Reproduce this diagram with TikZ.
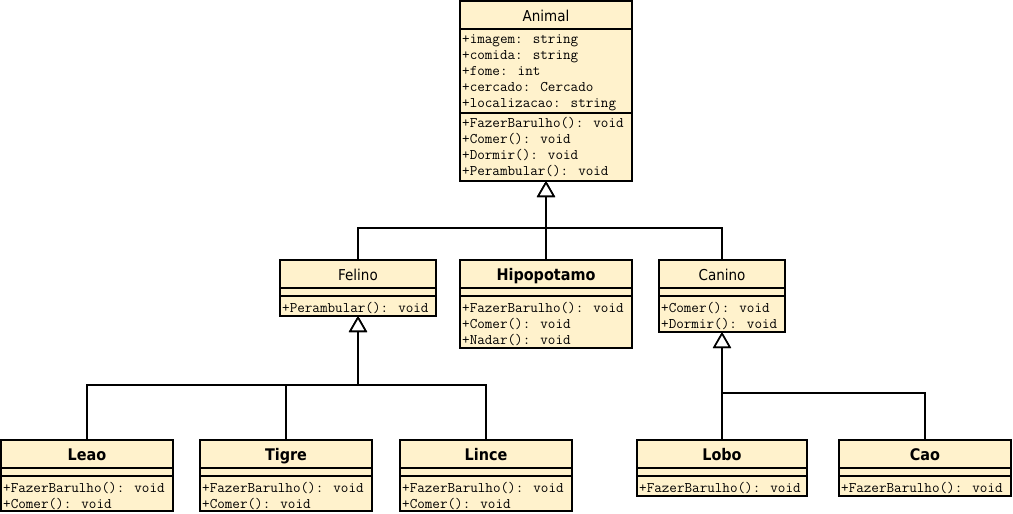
\documentclass[tikz,border=0pt]{standalone}
\usepackage{fontspec}
\newfontfamily\titlefont{DejaVu Sans Condensed}
\usetikzlibrary{arrows.meta}
\definecolor{umlfill}{HTML}{FFF2CC}
\tikzset{
  umlbox/.style={draw, fill=umlfill, line width=1.6pt, inner sep=0pt, outer sep=0pt, anchor=north west},
  sepline/.style={line width=1.6pt},
  ctitle/.style={font=\titlefont\fontsize{15}{18}\selectfont, inner sep=0pt, anchor=base},
  btitle/.style={font=\titlefont\bfseries\fontsize{16}{18}\selectfont, inner sep=0pt, anchor=base},
  mem/.style={font=\ttfamily\fontsize{14.7}{16}\selectfont, anchor=base west, inner sep=0pt},
  inh/.style={line width=1.6pt, -{Triangle[length=16pt,width=18pt,fill=white]}},
}
\newcommand\umlclass[7]{%
  \node[umlbox, minimum width={#4-#2}, minimum height={#7-#3}] (#1) at (#2,-#3) {};
  \draw[sepline] (#2,-#5) -- (#4,-#5);
  \draw[sepline] (#2,-#6) -- (#4,-#6);
}
\begin{document}
\begin{tikzpicture}[x=1pt,y=1pt]
\useasboundingbox (0,0) rectangle (1013,-514);
% classes
\umlclass{animal}{460}{1}{632}{29}{113}{181}
\umlclass{felino}{280}{260}{436}{288}{296}{316}
\umlclass{hipo}{460}{260}{632}{288}{296}{348}
\umlclass{canino}{659}{260}{785}{288}{296}{332}
\umlclass{leao}{1}{440}{173}{468}{476}{511}
\umlclass{tigre}{200}{440}{372}{468}{476}{511}
\umlclass{lince}{400}{440}{572}{468}{476}{511}
\umlclass{lobo}{637}{440}{807}{468}{476}{496}
\umlclass{cao}{839}{440}{1011}{468}{476}{496}
% titles
\node[ctitle] (animalT) at (546,-21) {Animal};
\node[ctitle] (felinoT) at (358,-280) {Felino};
\node[btitle] (hipoT) at (546,-280) {Hipopotamo};
\node[ctitle] (caninoT) at (722,-280) {Canino};
\node[btitle] (leaoT) at (87,-460) {Leao};
\node[btitle] (tigreT) at (286,-460) {Tigre};
\node[btitle] (linceT) at (486,-460) {Lince};
\node[btitle] (loboT) at (722,-460) {Lobo};
\node[btitle] (caoT) at (925,-460) {Cao};
% members
\node[mem] (a1) at (462,-43) {+imagem: string};
\node[mem] (a2) at (462,-59) {+comida: string};
\node[mem] (a3) at (462,-75) {+fome: int};
\node[mem] (a4) at (462,-91) {+cercado: Cercado};
\node[mem] (a5) at (462,-107) {+localizacao: string};
\node[mem] (a6) at (462,-127) {+FazerBarulho(): void};
\node[mem] (a7) at (462,-143) {+Comer(): void};
\node[mem] (a8) at (462,-159) {+Dormir(): void};
\node[mem] (a9) at (462,-175) {+Perambular(): void};
\node[mem] (f1) at (282,-312) {+Perambular(): void};
\node[mem] (h1) at (462,-312) {+FazerBarulho(): void};
\node[mem] (h2) at (462,-328) {+Comer(): void};
\node[mem] (h3) at (462,-344) {+Nadar(): void};
\node[mem] (c1) at (661,-312) {+Comer(): void};
\node[mem] (c2) at (661,-328) {+Dormir(): void};
\node[mem] (l1) at (3,-492) {+FazerBarulho(): void};
\node[mem] (l2) at (3,-508) {+Comer(): void};
\node[mem] (t1) at (202,-492) {+FazerBarulho(): void};
\node[mem] (t2) at (202,-508) {+Comer(): void};
\node[mem] (i1) at (402,-492) {+FazerBarulho(): void};
\node[mem] (i2) at (402,-508) {+Comer(): void};
\node[mem] (o1) at (639,-492) {+FazerBarulho(): void};
\node[mem] (k1) at (841,-492) {+FazerBarulho(): void};
% junctions
\coordinate (jA) at (546,-228);
\coordinate (jF) at (358,-385);
\coordinate (jC) at (722,-393);
% inheritance
\draw[inh] (felino.north) |- (jA) -| (animal.south);
\draw[inh] (hipo.north) -- (animal.south);
\draw[inh] (canino.north) |- (jA) -| (animal.south);
\draw[inh] (leao.north) |- (jF) -| (felino.south);
\draw[inh] (tigre.north) |- (jF) -| (felino.south);
\draw[inh] (lince.north) |- (jF) -| (felino.south);
\draw[inh] (lobo.north) -- (canino.south);
\draw[inh] (cao.north) |- (jC) -| (canino.south);
\end{tikzpicture}
\end{document}
